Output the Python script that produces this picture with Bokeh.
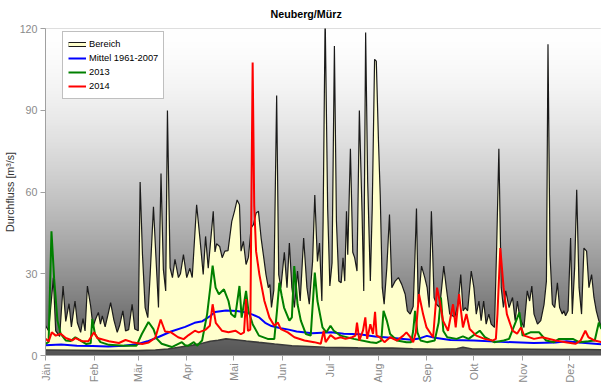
import numpy as np
from bokeh.plotting import figure
from bokeh.models import Range1d, FixedTicker, Legend, LegendItem
from bokeh.embed import file_html
from bokeh.resources import INLINE

# ---------------- data ----------------
title_text = "Neuberg/Mürz"
months = ["Jän", "Feb", "Mär", "Apr", "Mai", "Jun", "Jul", "Aug", "Sep", "Okt", "Nov", "Dez"]
month_start = [0, 31, 59, 90, 120, 151, 181, 212, 243, 273, 304, 334]
y_ticks = [0, 30, 60, 90, 120]

# upper limit of "Bereich" (max 1961-2007)
max_day = [0, 2, 5, 6.5, 9, 11.2, 12.9, 15, 16.5, 18.8,
           20.3, 22.4, 23.9, 25.2, 26.7, 28.8, 30.3, 32, 33.7, 35,
           36.2, 38, 40, 41.5, 43.6, 45.7, 47.2, 49.3, 51, 53,
           55.2, 56.9, 59.1, 60.3, 61.8, 63.5, 65.2, 66.7, 68.8, 70.3,
           72, 73.6, 75.1, 76.6, 77.7, 79.4, 80.9, 82.5, 84.7, 86,
           87.9, 90, 92, 93.5, 96.3, 98.4, 100.5, 102, 103.7, 106.9,
           108, 109, 111, 112.6, 114.3, 116.3, 118.7, 120.4, 122.1, 123.6,
           124.6, 126.1, 127.8, 129.3, 131, 132.5, 134.2, 135.7, 137.4, 139.1,
           140.5, 142, 143, 144, 145.5, 147.3, 148.6, 150, 152.2, 153.9,
           155.4, 157, 158.6, 160.6, 162.3, 164.5, 166.6, 168.1, 170.2, 171.6,
           173.3, 174.6, 176.1, 176.9, 178.2, 179.8, 181.2, 182.6, 184.1, 185.4,
           186.9, 188.4, 189.6, 190.7, 191.8, 192.6, 194.3, 195.8, 197, 198.5,
           200, 201.7, 202.8, 204, 205.3, 207, 208.2, 209.7, 210.8, 212.2,
           213.3, 214.6, 215.8, 217.5, 219.2, 220.7, 222.8, 224.9, 227, 229.2,
           230.6, 232.4, 234.3, 235.3, 236.4, 237.5, 239.6, 241.7, 243.2, 244.5,
           245.9, 247.6, 249.1, 251.2, 253.8, 255.4, 257.6, 260.8, 262.9, 264.6,
           266.1, 267.5, 269, 271.3, 273, 274.5, 276.2, 277.6, 279.2, 280.8,
           282.5, 284, 286.1, 287.5, 288.9, 290.4, 291.8, 293.3, 295.4, 297.6,
           299.3, 300.7, 302.2, 304.9, 307, 308.5, 309.9, 311.3, 313.5, 315.6,
           317.7, 319.2, 320.2, 321.5, 323, 324.5, 326.2, 327.6, 329.3, 330.3,
           331.4, 333, 334.6, 335.7, 337.2, 338.5, 340, 341.6, 343.1, 344.8,
           346.3, 348, 349.5, 351, 352.6, 354.3, 356]
max_q = [11, 9, 28.5, 9, 7, 25.5, 12.5, 19, 10.5, 20,
         12, 8.5, 13.5, 9, 25.5, 18, 10.5, 13.5, 15.8, 11.5,
         14.5, 10.5, 15.5, 19.4, 13, 8.5, 11, 16.4, 9, 9.5,
         18.8, 9.7, 9.1, 63.7, 37, 17.6, 13.9, 29.7, 54.6, 37,
         17.6, 66.8, 31.6, 23.7, 89.9, 32.2, 28.6, 35.3, 28.6, 30,
         37, 28.6, 32, 28.6, 55.3, 43, 29.7, 43.7, 32, 52.9,
         38, 41, 40, 35.9, 38.3, 38.5, 49.2, 52.9, 57.1, 55.3,
         38.3, 41.9, 33.4, 36, 46.8, 48, 52.3, 52.9, 43.1, 35.8,
         29.7, 24.9, 26, 17.6, 24, 95.4, 29.7, 24.9, 37.9, 24.9,
         41.3, 24.9, 17.6, 31, 20, 43.1, 24.9, 18.8, 34.5, 58.9,
         34.5, 41.3, 20, 49.2, 125, 53.9, 25.5, 34, 113.6, 49.2,
         27.3, 26.7, 35.9, 27.3, 52.9, 37, 75.9, 37.9, 35.9, 31,
         89.9, 52.9, 23.7, 118.5, 63.7, 27.3, 53.9, 108.7, 108, 78.4,
         58.9, 24.9, 18.8, 32.2, 51.7, 24.9, 27.3, 28.6, 26.1, 22.5,
         16.4, 15.2, 18, 34, 53.9, 18.8, 32.8, 28.6, 24.9, 17.6,
         52.9, 21.3, 18.8, 17.6, 32.8, 24.9, 15.2, 14, 18.8, 29.7,
         16.4, 17.6, 16.4, 31, 24.9, 15.2, 20, 12.8, 20, 11.5,
         15.2, 11.5, 10.3, 40, 75.9, 24.9, 17.6, 23.7, 17.6, 21.3,
         12.8, 20, 13.9, 10.3, 23.7, 20, 25.5, 15.2, 11.5, 12.8,
         18.8, 27.3, 114.2, 37, 18.8, 17.6, 26.7, 17.6, 15.2, 16.4,
         14.6, 16.4, 43.1, 15.2, 32.2, 60.8, 24.9, 15.2, 39.4, 38.3,
         24.9, 29.7, 21.3, 16.4, 12.8, 10.3, 12]

# lower limit of "Bereich" (min 1961-2007)
min_day = [0, 20, 40, 59, 70, 78, 89, 94, 100, 105,
           110, 115, 121, 128, 136, 146, 157, 168, 178, 199,
           221, 234, 250, 262, 266, 272, 290, 310, 330, 345, 356]
min_q = [2, 1.9, 1.8, 1.8, 2, 2.4, 3.4, 3.8, 4.5, 5.2,
         5.6, 6.1, 5.8, 5.3, 4.8, 4.2, 3.6, 3.3, 3, 2.8,
         2.7, 2.5, 2.3, 2.5, 3, 2.4, 2.4, 2.3, 2.2, 2.2, 2.1]

# Mittel 1961-2007
mean_day = [0, 10, 20, 30, 40, 50, 59, 65, 72, 80,
            89, 95, 100, 105, 108, 115, 122, 128, 132, 136,
            140, 144, 150, 155, 160, 170, 182, 190, 200, 210,
            220, 233, 238, 243, 248, 258, 273, 290, 311, 325,
            332, 340, 356]
mean_q = [3.8, 4, 3.6, 3.5, 3.3, 3.6, 4.2, 5.2, 6.8, 8.8,
          10.5, 12, 12.6, 14.5, 16, 16.5, 16.3, 15.8, 15, 14,
          12, 10.8, 10, 9.5, 8.8, 8.2, 8.5, 8, 7.8, 7,
          6.5, 5.8, 6.2, 7.2, 6.5, 5.7, 5.5, 5, 4.6, 4.8,
          5.2, 4.8, 4]

# 2013
y2013_day = [0, 2, 3.8, 5.5, 7.6, 9.7, 12.9, 16, 19, 21.4,
             26, 28.8, 29.8, 31.5, 35, 40.4, 50, 58, 61.4, 65.6,
             68.8, 71, 74, 80.5, 86.9, 89, 91, 94.5, 96.6, 99.8,
             103, 105, 106.5, 108.4, 110.5, 113.7, 116.6, 118.3, 120.8, 123.6,
             125, 127.8, 129.3, 132, 136, 141.6, 145.8, 147.5, 149, 150.5,
             152, 155.4, 157, 158.5, 160.6, 162.7, 165.9, 169, 171.6, 173.3,
             176.5, 179, 181.6, 183.7, 188, 196.4, 207, 211, 214, 215.4,
             217.5, 219.6, 224, 230, 233, 234.3, 235.5, 237, 239, 243,
             248, 250.5, 252, 253.5, 256, 262, 266, 269.6, 276.7, 280,
             286, 292, 295.4, 302, 304, 309, 314.6, 319, 324, 327.3,
             336, 340, 346, 350, 352.6, 354, 356]
y2013_q = [4.3, 5, 45.6, 28.2, 12.8, 7.9, 5.5, 5.3, 6.7, 5.8,
           4.2, 4.5, 13.4, 7.9, 4.9, 3.9, 3.6, 3.6, 7.9, 12.3,
           9.7, 6.1, 4.3, 3.1, 4.9, 3.8, 3.6, 4.9, 3.6, 5.5,
           15.2, 24.9, 33, 24.9, 22.5, 24.3, 20, 15.2, 14, 25.5,
           13.9, 23.7, 16.4, 11.5, 7.3, 6.1, 6.1, 16.4, 26.7, 22,
           17.6, 12.8, 14, 32.8, 18.8, 12.8, 7.9, 7.3, 30.4, 20,
           10.3, 8.5, 10.9, 9.1, 7.3, 6.1, 4.9, 4.6, 5.5, 16.4,
           12.8, 7.9, 5.5, 4.9, 4.9, 9, 16.4, 8.5, 5.5, 4.9,
           5.5, 12, 21.3, 9, 6.7, 6.1, 7, 6.1, 9.1, 6.7,
           4.9, 5.5, 6.1, 15.8, 7.3, 8.5, 8.5, 5.5, 4.9, 6.1,
           6.1, 4.9, 5.2, 5.5, 12.1, 10, 9]

# 2014
y2014_day = [0, 2, 4, 6.5, 9.7, 12.9, 17.1, 19.2, 23.5, 27.3,
             30.9, 33, 40.4, 46.8, 51, 55.2, 61.6, 65.8, 70, 73.4,
             76.2, 80, 84.5, 88, 91.2, 95.2, 97.6, 101.8, 104.7, 106.5,
             108.5, 112.4, 116.6, 121, 124.5, 126.5, 127.8, 129, 130.5, 132,
             133, 134.2, 136.3, 139.5, 142.7, 145.8, 148, 150, 154.4, 158.6,
             165, 171.2, 175.4, 177.3, 178.5, 181.6, 184.7, 188, 191.2, 195.4,
             197.5, 198.5, 200, 202.3, 203.8, 205, 207, 208.7, 210, 211,
             213, 216, 219.6, 224, 228, 230, 232.5, 234.3, 236, 238,
             240.6, 242.8, 247, 249.5, 251.2, 253.3, 256.5, 259.7, 261.4, 263.5,
             266, 268.2, 270.3, 274.5, 279.8, 285, 287, 288, 289.8, 291.9,
             294, 297.6, 300.5, 303, 305, 311.3, 316.6, 325, 331.4, 337.7,
             341, 344, 346, 350, 354, 356]
y2014_q = [6.1, 5.2, 8.5, 7.3, 8, 6.4, 5.5, 6.4, 5.2, 5.2,
           8.5, 6.4, 5.2, 4.6, 5.7, 4.9, 4.2, 4.8, 6.5, 13.2,
           8.8, 8.5, 6.7, 6, 7.5, 9.1, 8.5, 9.4, 10.9, 18.8,
           12, 9.1, 8.5, 9.1, 7.8, 8.5, 20.7, 9, 9.5, 107.5,
           55, 38.2, 29.7, 20, 13.9, 10.9, 12.1, 9.7, 8.5, 6.7,
           5.5, 4.9, 4.3, 9.1, 4.9, 7.5, 6.1, 6.7, 6.1, 6.7,
           7.3, 12.1, 5.5, 9.1, 14, 6.1, 11.5, 7.9, 16, 7.3,
           6.7, 4.9, 6.7, 5.5, 7.3, 8.5, 6.7, 4.9, 8.5, 22.5,
           15.2, 10.3, 6.7, 24.9, 20, 12.8, 9.1, 18.8, 10.3, 22.5,
           10.3, 15.2, 9.7, 7.3, 6.1, 5.5, 6.1, 15.2, 39.4, 24.9,
           15.2, 9.1, 8, 10.3, 7.3, 6.1, 6.7, 5.5, 4.9, 4.3,
           5.5, 9.1, 6.7, 5.5, 4.9, 4.9]

# ---------------- figure ----------------
X_END = 354.3
Y_END = 120
FONT = "Liberation Sans"

p = figure(width=601, height=387, output_backend="svg", toolbar_location=None,
           x_range=Range1d(0, X_END), y_range=Range1d(0, Y_END),
           min_border_left=43, min_border_right=0, min_border_top=27, min_border_bottom=32,
           title=title_text)
p.title.text_font = FONT
p.title.text_font_size = "10.7px"
p.title.text_font_style = "bold"
p.title.text_color = "#000000"
p.title.align = "left"
p.title.offset = 225
p.title.vertical_align = "top"
p.title.standoff = 14

p.background_fill_color = "white"
p.border_fill_color = "white"
p.outline_line_color = "#d4d4d4"
p.xgrid.visible = False
p.ygrid.visible = False

# vertical gradient background (white at top -> dark gray at bottom)
n = 256
frac_top = 1 - np.linspace(0, 1, n)      # row 0 = bottom
g = np.clip(255 - (255 - 85) * frac_top ** 1.6, 0, 255).astype(np.uint8)
img = np.empty((n, 1), dtype=np.uint32)
view = img.view(dtype=np.uint8).reshape((n, 1, 4))
view[:, 0, 0] = g
view[:, 0, 1] = g
view[:, 0, 2] = g
view[:, 0, 3] = 255
p.image_rgba(image=[img], x=0, y=0, dw=X_END, dh=Y_END)

# Bereich band (polygon between max and min)
band_x = list(max_day) + list(min_day[::-1])
band_y = list(max_q) + list(min_q[::-1])
p.patch(band_x, band_y, fill_color="#FFFFCC", line_color=None)
p.line(max_day, max_q, line_color="#1a1a1a", line_width=1.2)
p.line(min_day, min_q, line_color="#3a3a3a", line_width=1.6)

r_mean = p.line(mean_day, mean_q, line_color="#0000FF", line_width=2)
r_2013 = p.line(y2013_day, y2013_q, line_color="#008000", line_width=2)
r_2014 = p.line(y2014_day, y2014_q, line_color="#FF0000", line_width=2)

# legend proxies for "Bereich" (bordered pale-yellow box); NaN data -> nothing drawn in plot
lb1 = p.line(x=[float("nan")], y=[float("nan")], line_color="#1a1a1a", line_width=5)
lb2 = p.line(x=[float("nan")], y=[float("nan")], line_color="#FFFFCC", line_width=3)

legend = Legend(items=[LegendItem(label="Bereich", renderers=[lb1, lb2]),
                       LegendItem(label="Mittel 1961-2007", renderers=[r_mean]),
                       LegendItem(label="2013", renderers=[r_2013]),
                       LegendItem(label="2014", renderers=[r_2014])],
                location=(17, 256), padding=5, spacing=0, margin=0,
                label_height=14, glyph_height=14, glyph_width=18, label_standoff=3,
                label_text_font=FONT, label_text_font_size="9.3px", label_text_color="#000000",
                border_line_color="#808080", border_line_width=1,
                background_fill_color="white", background_fill_alpha=1)
p.add_layout(legend)

# axes
p.xaxis.ticker = FixedTicker(ticks=month_start)
p.xaxis.major_label_overrides = {m: lab for m, lab in zip(month_start, months)}
p.xaxis.major_label_orientation = np.pi / 2
p.yaxis.ticker = FixedTicker(ticks=y_ticks)
for ax in (p.xaxis[0], p.yaxis[0]):
    ax.major_label_text_font = FONT
    ax.major_label_text_font_size = "10.7px"
    ax.major_label_text_color = "#8a8a8a"
    ax.axis_line_color = "#a0a0a0"
    ax.major_tick_line_color = "#a0a0a0"
    ax.minor_tick_line_color = None
    ax.major_tick_in = 0
    ax.major_tick_out = 5
    ax.major_label_standoff = 3
p.yaxis.axis_label = "Durchfluss [m³/s]"
p.yaxis.axis_label_text_font = FONT
p.yaxis.axis_label_text_font_size = "10.7px"
p.yaxis.axis_label_text_font_style = "normal"
p.yaxis.axis_label_text_color = "#333333"
p.yaxis.axis_label_standoff = 1

open("out.html", "w").write(file_html(p, INLINE))
